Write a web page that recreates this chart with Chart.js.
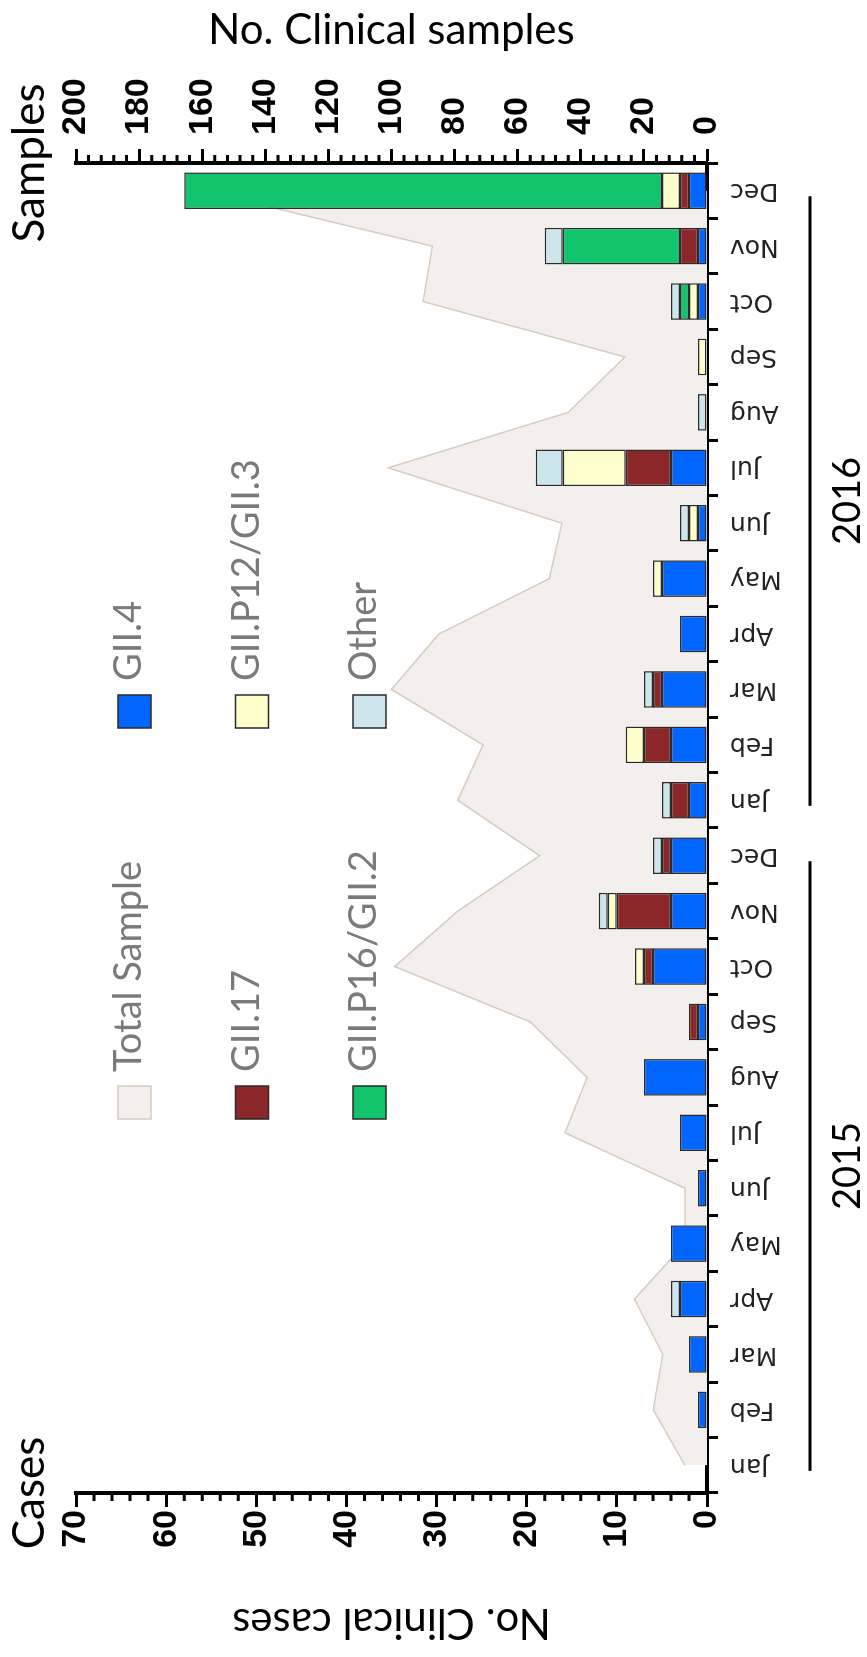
<!DOCTYPE html>
<html>
<head>
<meta charset="utf-8">
<script src="https://cdn.jsdelivr.net/npm/chart.js@4/dist/chart.umd.min.js"></script>
<style>
  html, body { margin: 0; padding: 0; background: #fff; overflow: hidden; }
  #wrap {
    position: absolute; left: 0; top: 0;
    width: 1657px; height: 867px;
    transform-origin: 0 0;
    transform: translateY(1657px) rotate(-90deg);
  }
</style>
</head>
<body>
<div id="wrap"><canvas id="chart" width="1657" height="867"></canvas></div>
<script>
// months Jan 2015 .. Dec 2016
const months = ['Jan', 'Feb', 'Mar', 'Apr', 'May', 'Jun', 'Jul', 'Aug', 'Sep', 'Oct', 'Nov', 'Dec'];
const categories = months.concat(months);
const years = ['2015', '2016'];

// total clinical samples (right axis)
const totalSample = [7, 17, 14, 23, 7, 7, 45, 38, 56, 99, 79, 53, 79, 71, 100, 85, 50, 46, 101, 44, 26, 90, 87, 160];

// clinical cases by genotype (left axis, stacked)
const gii4    = [0, 1, 2, 3, 4, 1, 3, 7, 1, 6, 4, 4, 2, 4, 5, 3, 5, 1, 4, 0, 0, 1, 1, 2];
const gii17   = [0, 0, 0, 0, 0, 0, 0, 0, 1, 1, 6, 1, 2, 3, 1, 0, 0, 0, 5, 0, 0, 0, 2, 1];
const giiP12  = [0, 0, 0, 0, 0, 0, 0, 0, 0, 1, 1, 0, 0, 2, 0, 0, 1, 1, 7, 0, 1, 1, 0, 2];
const giiP16  = [0, 0, 0, 0, 0, 0, 0, 0, 0, 0, 0, 0, 0, 0, 0, 0, 0, 0, 0, 0, 0, 1, 13, 53];
const other   = [0, 0, 0, 1, 0, 0, 0, 0, 0, 0, 1, 1, 1, 0, 1, 0, 0, 1, 3, 1, 0, 1, 2, 0];

// tick labels
const casesTicks   = [0, 10, 20, 30, 40, 50, 60, 70];
const samplesTicks = [0, 20, 40, 60, 80, 100, 120, 140, 160, 180, 200];
const casesMinor = 2;
const samplesMinor = 4;

const barBorder = '#2b2b2b';

function bar(label, data, color) {
    return {
        label: label,
        data: data,
        yAxisID: 'y',
        backgroundColor: color,
        borderColor: barBorder,
        borderWidth: 1.5,
        borderSkipped: false,
        barPercentage: 0.66,
        categoryPercentage: 1,
        order: 1
    };
}

// extra drawing: minor ticks, corner captions, year bars, legend
const decor = {
    id: 'decor',
    afterDraw(chart) {
        const { ctx, chartArea, scales } = chart;
        const x = scales.x, y = scales.y, y2 = scales.y2;
        ctx.save();

        // minor ticks
        ctx.strokeStyle = '#000';
        ctx.lineWidth = 3;
        ctx.beginPath();
        for (let v = 0; v <= y.max; v += casesMinor) {
            if (casesTicks.includes(v)) continue;
            const py = y.getPixelForValue(v);
            ctx.moveTo(y.right, py);
            ctx.lineTo(y.right - 8, py);
        }
        for (let v = 0; v <= y2.max; v += samplesMinor) {
            if (samplesTicks.includes(v)) continue;
            const py = y2.getPixelForValue(v);
            ctx.moveTo(y2.left, py);
            ctx.lineTo(y2.left + 8, py);
        }
        ctx.stroke();

        // corner captions
        ctx.fillStyle = '#000';
        ctx.font = '44px Lato';
        ctx.textAlign = 'center';
        ctx.textBaseline = 'middle';
        ctx.fillText('Cases', y.right, 30);
        ctx.fillText('Samples', y2.left, 30);

        // year bars
        const cw = x.getPixelForValue(1) - x.getPixelForValue(0);
        ctx.font = '38px Lato';
        years.forEach(function(yr, i) {
            const p0 = x.getPixelForValue(i * 12) - 0.1 * cw;
            const p1 = x.getPixelForValue(i * 12 + 11) - 0.1 * cw;
            ctx.beginPath();
            ctx.moveTo(p0, x.top + 103);
            ctx.lineTo(p1, x.top + 103);
            ctx.stroke();
            ctx.fillText(yr, (p0 + p1) / 2, x.top + 141);
        });

        // legend, two columns
        const colX = [chartArea.left + 374, chartArea.left + 765];
        ctx.font = '38px Lato';
        ctx.textAlign = 'left';
        ctx.textBaseline = 'alphabetic';
        chart.data.datasets.forEach(function(ds, i) {
            const bx = colX[i % 2];
            const by = 118 + Math.floor(i / 2) * 117.5;
            ctx.fillStyle = ds.backgroundColor;
            ctx.fillRect(bx, by, 33, 33);
            ctx.lineWidth = 1.5;
            ctx.strokeStyle = ds.type === 'line' ? ds.borderColor : barBorder;
            ctx.strokeRect(bx, by, 33, 33);
            ctx.fillStyle = '#7a7a7a';
            ctx.fillText(ds.label, bx + 47, by + 23);
        });

        ctx.restore();
    }
};

const ctx = document.getElementById('chart').getContext('2d');
new Chart(ctx, {
    type: 'bar',
    data: {
        labels: categories,
        datasets: [
            {
                type: 'line',
                label: 'Total Sample',
                data: totalSample,
                yAxisID: 'y2',
                fill: 'origin',
                backgroundColor: '#f2efec',
                borderColor: '#d8ccc0',
                borderWidth: 1.5,
                pointRadius: 0,
                tension: 0,
                order: 2
            },
            bar('GII.4', gii4, '#0066ff'),
            bar('GII.17', gii17, '#8b2629'),
            bar('GII.P12/GII.3', giiP12, '#ffffcc'),
            bar('GII.P16/GII.2', giiP16, '#12c46b'),
            bar('Other', other, '#cde6ed')
        ]
    },
    options: {
        responsive: false,
        animation: false,
        layout: { padding: { top: 76 } },
        plugins: {
            legend: { display: false },
            tooltip: { enabled: false }
        },
        scales: {
            x: {
                stacked: true,
                offset: true,
                grid: { offset: true, drawOnChartArea: false, tickLength: 11, tickWidth: 3, tickColor: '#000' },
                border: { display: true, width: 4, color: '#000' },
                ticks: {
                    minRotation: 90, maxRotation: 90, autoSkip: false, padding: 12,
                    color: '#222', font: { family: 'DejaVu Sans', size: 25 }
                },
                afterFit: function(s) { s.height = 160; }
            },
            y: {
                stacked: true,
                position: 'left',
                min: 0, max: 70,
                afterBuildTicks: function(s) { s.ticks = casesTicks.map(v => ({ value: v })); },
                grid: { drawOnChartArea: false, tickLength: 14, tickWidth: 3, tickColor: '#000' },
                border: { display: true, width: 4, color: '#000' },
                ticks: { padding: 3, color: '#000', font: { family: 'Liberation Sans', weight: 'bold', size: 34 } },
                title: { display: true, text: 'No. Clinical cases', color: '#000', font: { family: 'Lato', size: 42 }, padding: { top: 9, bottom: 0 } },
                afterFit: function(s) { s.width = 164; }
            },
            y2: {
                position: 'right',
                min: 0, max: 200,
                afterBuildTicks: function(s) { s.ticks = samplesTicks.map(v => ({ value: v })); },
                grid: { drawOnChartArea: false, tickLength: 14, tickWidth: 3, tickColor: '#000' },
                border: { display: true, width: 4, color: '#000' },
                ticks: { padding: 14, color: '#000', font: { family: 'Liberation Sans', weight: 'bold', size: 34 } },
                title: { display: true, text: 'No. Clinical samples', color: '#000', font: { family: 'Lato', size: 42 }, padding: { top: 5, bottom: 0 } },
                afterFit: function(s) { s.width = 163; }
            }
        }
    },
    plugins: [decor]
});
</script>
</body>
</html>
